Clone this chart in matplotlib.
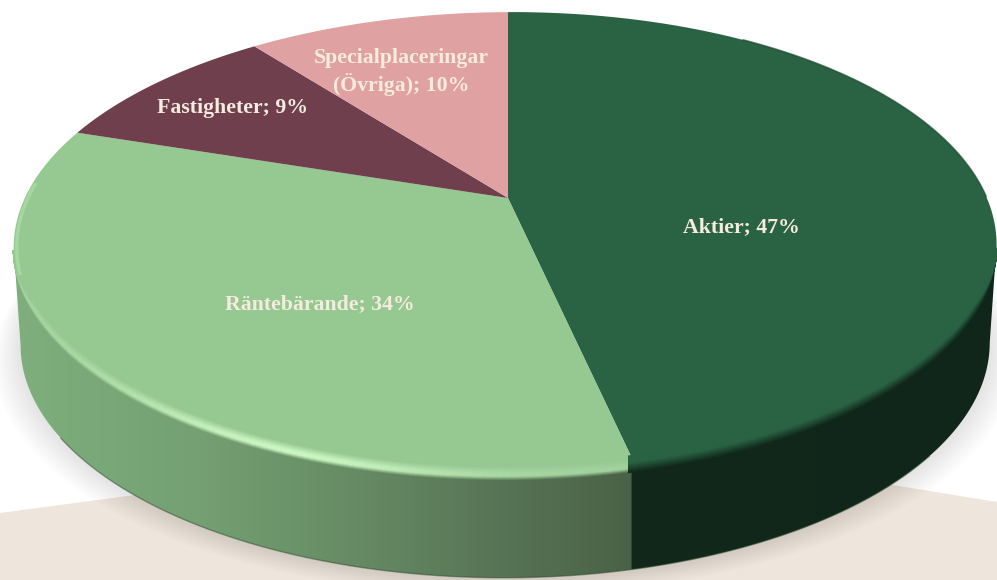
import numpy as np
import matplotlib.pyplot as plt
from matplotlib.patches import Polygon
from matplotlib.collections import LineCollection
from matplotlib.colors import to_rgb

# shares, the printed labels are rounded
categories = ['Aktier', 'Räntebärande', 'Fastigheter', 'Specialplaceringar\n(Övriga)']
shares = [46.55, 33.65, 9.4, 10.45]
colors = ['#2A6343', '#96C892', '#6F3F4E', '#E0A1A2']
label_x = [741, 320, 232, 401]
label_y = [227, 304, 108, 72]

W, H = 997, 580
TEXT_COLOR = '#F6EBDF'
FLOOR_COLOR = '#EEE5DC'

# view of the disc, in pixels
vx, vy = 508, 198      # where the slices meet
A, B, K = 481, 224, 0.205   # width, height, perspective
TILT = 0.004
BEVEL = 16
DEPTH = 98


def disc(theta):
    # theta in radians, clockwise from the top
    x = np.sin(theta)
    y = np.cos(theta)
    w = 1 + K * y
    px = A * x / w
    return vx + px - 3 * x ** 2, vy - B * y / w - TILT * px


def lower_rim(n=500):
    t = np.linspace(0, 2 * np.pi, 1441)
    px, py = disc(t)
    right = np.argmax(px)
    left = np.argmin(px)
    idx = np.linspace(right, left, n).round().astype(int)
    return px[idx], py[idx]


def wall_bottom(px, py, grow=0.0):
    return vx + (px - vx) * (0.986 + grow / 490), py + DEPTH + grow * 0.6


def blend(c1, c2, t):
    return np.asarray(c1) + (np.asarray(c2) - np.asarray(c1)) * t


fig = plt.figure(figsize=(W / 100, H / 100), dpi=100)
ax = fig.add_axes([0, 0, 1, 1])
ax.set_xlim(0, W)
ax.set_ylim(H, 0)
ax.axis('off')

# floor behind the pie
ax.add_patch(Polygon([(0, 513), (135, 495), (500, 447), (893, 485), (W, 502), (W, H), (0, H)],
                     closed=True, fc=FLOOR_COLOR, ec='none', zorder=1))

# soft shadow, stacked see through outlines
all_t = np.linspace(0, 2 * np.pi, 400)
sx, sy = disc(all_t)
for grow in np.arange(26, 0, -2):
    bx, by = wall_bottom(sx, sy, grow)
    ax.fill(bx, by + 2, color='black', alpha=0.009, lw=0, zorder=2)

# slice edges
edges = np.cumsum([0] + shares) / np.sum(shares) * 2 * np.pi
rx, ry = disc(edges[1])
split_x = vx + (rx - vx) * (ry - BEVEL - vy) / (ry - vy)

# side wall with a sideways gradient
lx, ly = lower_rim()
bx, by = wall_bottom(lx, ly)
wall = Polygon(np.column_stack([np.r_[lx, bx[::-1]], np.r_[ly, by[::-1]]]),
               closed=True, fc='none', ec='none', zorder=3)
ax.add_patch(wall)
cols = np.arange(W) + 0.5
stops_x = [0, 30, 200, 380, 500, split_x, split_x + 1, W]
stops_r = [[0x7E, 0xAE, 0x7C], [0x7E, 0xAE, 0x7C], [0x74, 0xA0, 0x73], [0x64, 0x87, 0x61],
           [0x57, 0x74, 0x55], [0x4A, 0x62, 0x47], [0x10, 0x28, 0x1B], [0x10, 0x26, 0x1A]]
stops_r = np.array(stops_r) / 255
grad = np.stack([np.interp(cols, stops_x, stops_r[:, i]) for i in range(3)], axis=1)
img = ax.imshow(grad[None, :, :], extent=(0, W, H, 0), aspect='auto', zorder=3, interpolation='bilinear')
img.set_clip_path(wall)
ax.set_xlim(0, W)
ax.set_ylim(H, 0)

# dark line under the wall, not at the two ends
inner = (bx > 60) & (bx < 930)
ax.plot(bx[inner], by[inner], color='#2F4A33', lw=1.0, alpha=0.5, zorder=4)

# top of the pie
for i in range(len(shares)):
    t = np.linspace(edges[i], edges[i + 1], 300)
    px, py = disc(t)
    ax.fill(np.r_[vx, px], np.r_[vy, py], color=colors[i], lw=0, zorder=5, antialiased=True)

# bevel along the front rim: colour runs from wall to highlight to face
face_l = np.array(to_rgb(colors[1]))
face_d = np.array(to_rgb(colors[0]))
light = np.array(to_rgb('#CBF6C2'))
wall_at = grad[np.clip(lx.astype(int), 0, W - 1)]
strength = 0.2 + 0.8 * np.exp(-((lx - 290) / 170) ** 2)
is_left = lx < split_x
# bevel closes up toward the two tips
squeeze = np.where(is_left, np.clip((ly - ly[-1]) / 70, 0, 1), np.clip((ly - ly[0]) / 70, 0, 1))
keep = squeeze[:-1] > 0.05
for dy in np.arange(0, BEVEL, 0.75):
    top = blend(face_l, light, strength[:, None])
    if dy < 4:
        c_l = blend(wall_at, top, dy / 4)
    elif dy < 7:
        c_l = top
    else:
        c_l = blend(top, face_l[None, :], min((dy - 7) / 7, 1))
    c_d = blend(wall_at, face_d[None, :], min(dy / 10, 1))
    c = np.where(is_left[:, None], c_l, c_d)
    pts = np.column_stack([lx, ly - dy * squeeze])
    segs = np.stack([pts[:-1], pts[1:]], axis=1)
    ax.add_collection(LineCollection(segs[keep], colors=c[:-1][keep], linewidths=1.4, zorder=6, capstyle='butt'))

# highlight running up past the left tip
t = np.linspace(np.radians(252), np.radians(274), 60)
px, py = disc(t)
ax.plot(px + 3, py, color='#B4E6AC', lw=2.5, alpha=0.5, zorder=7, solid_capstyle='round')

# thin dark edge on the upper right
t = np.linspace(np.radians(35), np.radians(90), 100)
px, py = disc(t)
ax.plot(px, py, color='#1B4A30', lw=1.2, alpha=0.7, zorder=7)

for i in range(len(categories)):
    ax.text(label_x[i], label_y[i], f'{categories[i]}; {round(shares[i])}%', ha='center', va='center',
            color=TEXT_COLOR, fontsize=15.7, fontweight='bold', family='Liberation Serif',
            linespacing=1.3, zorder=8)

fig.savefig('out.png', dpi=100)
